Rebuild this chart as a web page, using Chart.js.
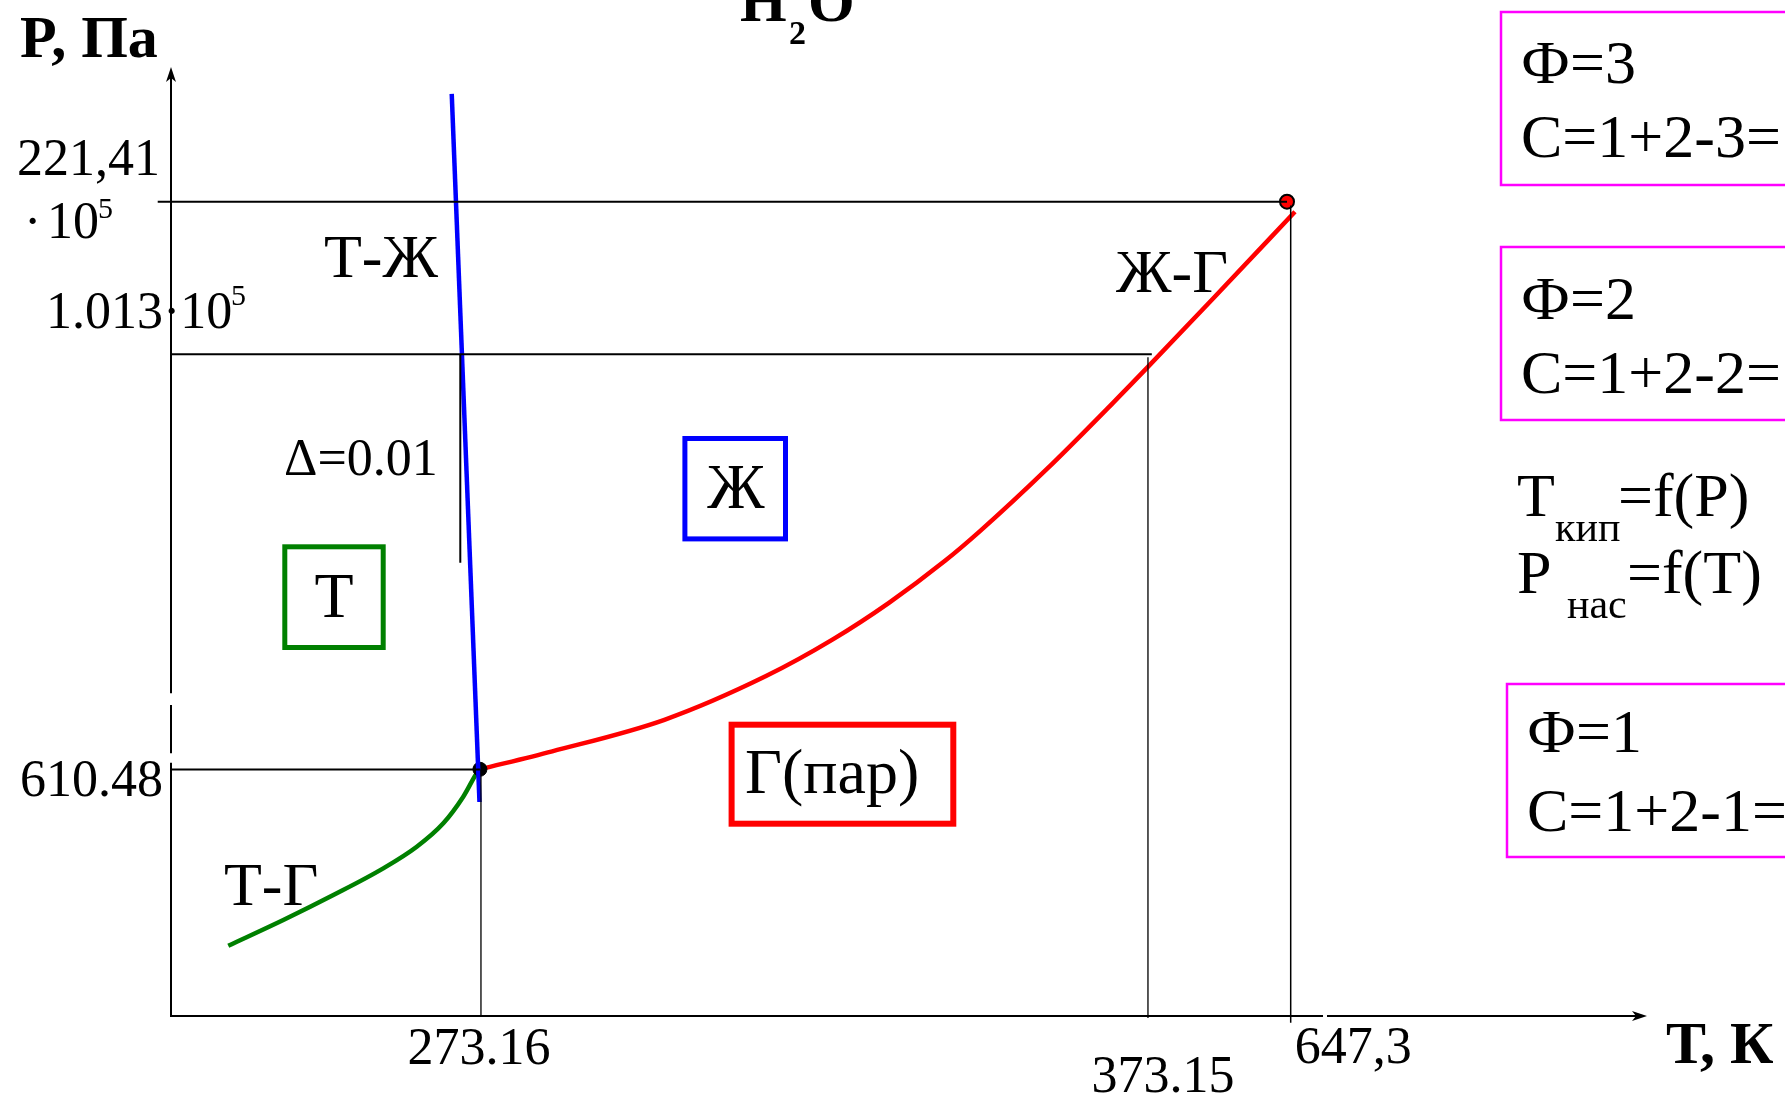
<!DOCTYPE html>
<html>
<head>
<meta charset="utf-8">
<title>H2O</title>
<script src="https://cdn.jsdelivr.net/npm/chart.js@4.4.1/dist/chart.umd.min.js"></script>
<style>
  html, body { margin: 0; padding: 0; background: #fff; overflow: hidden; }
  canvas { display: block; }
</style>
</head>
<body>
<canvas id="diagram" width="1785" height="1095"></canvas>
<script>
// Schematic diagram: both axes run 0..100, the picture is not to scale
let tickT = [21.0, 66.19, 75.86];
let tickTLabels = ['273.16', '373.15', '647,3'];
let tickP = [25.98, 69.72, 85.81];
let tickPLabels = ['610.48', '1.013·10', '221,41'];

let triplePoint = [20.93, 26.0];
let criticalPoint = [75.61, 85.81];

// Ж-Г (boiling curve)
let vapT = [20.93, 25.83, 33.43, 40.28, 44.84, 48.64, 52.44, 54.81, 59.33, 63.84, 66.17, 70.62, 76.15];
let vapP = [26.0, 27.89, 31.21, 35.79, 39.68, 43.53, 47.96, 51.09, 57.62, 64.64, 68.37, 75.63, 84.75];

// Т-Г (sublimation curve)
let sublT = [3.88, 7.61, 11.0, 14.38, 16.65, 18.45, 19.8, 20.71, 20.93];
let sublP = [7.41, 10.12, 12.75, 15.56, 17.84, 20.31, 23.11, 25.58, 26.0];

// Т-Ж (melting line)
let fusT = [19.02, 20.9];
let fusP = [97.16, 22.55];

// Δ=0.01 marker
let deltaT = 19.6;
let deltaP = [69.72, 47.77];

function zip(xs, ys) {
    return xs.map((x, i) => ({ x: x, y: ys[i] }));
}

function segment(x1, y1, x2, y2, width) {
    return {
        data: [{ x: x1, y: y1 }, { x: x2, y: y2 }],
        showLine: true,
        borderColor: '#000',
        borderWidth: width,
        pointRadius: 0,
        clip: false,
        order: 0
    };
}

function curve(xs, ys, color, order) {
    return {
        data: zip(xs, ys),
        showLine: true,
        borderColor: color,
        borderWidth: 4.5,
        pointRadius: 0,
        cubicInterpolationMode: 'monotone',
        clip: false,
        order: order
    };
}

let datasets = [
    // helper lines
    segment(-0.9, tickP[2], criticalPoint[0], tickP[2], 2),
    segment(0, tickP[1], 66.45, tickP[1], 2),
    segment(0, tickP[0], triplePoint[0], tickP[0], 2),
    segment(tickT[0], triplePoint[1], tickT[0], -0.1, 1.3),
    segment(tickT[1], tickP[1] - 0.3, tickT[1], -0.2, 1.3),
    segment(tickT[2], criticalPoint[1] - 0.4, tickT[2], -0.7, 1.5),
    segment(deltaT, deltaP[0], deltaT, deltaP[1], 2),
    curve(fusT, fusP, '#0000ff', 1),
    {
        data: [{ x: triplePoint[0], y: triplePoint[1] }],
        pointRadius: 7, backgroundColor: '#000', borderColor: '#000', borderWidth: 1,
        clip: false, order: 2
    },
    {
        data: [{ x: criticalPoint[0], y: criticalPoint[1] }],
        pointRadius: 7, backgroundColor: '#ff0000', borderColor: '#000', borderWidth: 2,
        clip: false, order: 3
    },
    curve(vapT, vapP, '#ff0000', 4),
    curve(sublT, sublP, '#008000', 5)
];

const FONT = '"Liberation Serif", "Times New Roman", serif';

function text(ctx, str, x, y, size, bold, align) {
    ctx.font = (bold ? 'bold ' : '') + size + 'px ' + FONT;
    ctx.textAlign = align || 'left';
    ctx.textBaseline = 'alphabetic';
    ctx.fillStyle = '#000';
    ctx.fillText(str, x, y);
}

function box(ctx, x, y, w, h, color, width) {
    ctx.strokeStyle = color;
    ctx.lineWidth = width;
    ctx.strokeRect(x, y, w, h);
}

function arrowHead(ctx, x, y, dir) {
    // thin stealth arrow, dir: 'up' or 'right'
    ctx.save();
    ctx.translate(x, y);
    if (dir === 'right') ctx.rotate(Math.PI / 2);
    ctx.beginPath();
    ctx.moveTo(0, 0);
    ctx.lineTo(-5, 15);
    ctx.lineTo(0, 11);
    ctx.lineTo(5, 15);
    ctx.closePath();
    ctx.fillStyle = '#000';
    ctx.fill();
    ctx.restore();
}

const axesPlugin = {
    id: 'axes',
    beforeDatasetsDraw(chart) {
        let ctx = chart.ctx;
        let xs = chart.scales.x, ys = chart.scales.y;
        let x0 = xs.getPixelForValue(0), y0 = ys.getPixelForValue(0);
        let xTop = ys.getPixelForValue(100), xRight = xs.getPixelForValue(100);

        ctx.save();
        ctx.strokeStyle = '#000';
        ctx.lineWidth = 2;

        // P axis, with the two little breaks of the original
        let yBreaks = [[26.69, 27.68], [32.77, 34.0]];
        let from = 0;
        ctx.beginPath();
        yBreaks.forEach(b => {
            ctx.moveTo(x0, ys.getPixelForValue(from));
            ctx.lineTo(x0, ys.getPixelForValue(b[0]));
            from = b[1];
        });
        ctx.moveTo(x0, ys.getPixelForValue(from));
        ctx.lineTo(x0, xTop + 8);
        ctx.stroke();
        arrowHead(ctx, x0, xTop, 'up');

        // T axis
        ctx.beginPath();
        ctx.moveTo(x0 - 1, y0);
        ctx.lineTo(xs.getPixelForValue(78.05), y0);
        ctx.moveTo(xs.getPixelForValue(78.32), y0);
        ctx.lineTo(xRight - 8, y0);
        ctx.stroke();
        arrowHead(ctx, xRight, y0, 'right');
        ctx.restore();
    },
    afterDraw(chart) {
        let ctx = chart.ctx;
        let xs = chart.scales.x, ys = chart.scales.y;
        ctx.save();

        // axis titles
        text(ctx, 'P, Па', 20, 57, 60, true);
        text(ctx, 'Т, К', 1666, 1063, 60, true);
        text(ctx, 'H', 740, 21, 60, true);
        text(ctx, '2', 789, 44, 34, true);
        text(ctx, 'O', 808, 21, 60, true);

        // P ticks
        let p0 = ys.getPixelForValue(tickP[0]);
        let p1 = ys.getPixelForValue(tickP[1]);
        let p2 = ys.getPixelForValue(tickP[2]);
        text(ctx, tickPLabels[0], 20, p0 + 27, 52);
        text(ctx, tickPLabels[1], 46, p1 - 26, 52);
        text(ctx, '5', 231, p1 - 49, 30);
        text(ctx, tickPLabels[2], 17, p2 - 27, 52);
        text(ctx, '·', 24, p2 + 36, 52);
        text(ctx, '10', 47, p2 + 36, 52);
        text(ctx, '5', 98, p2 + 16, 30);

        // T ticks
        text(ctx, tickTLabels[0], xs.getPixelForValue(tickT[0]) - 2, 1064, 52, false, 'center');
        text(ctx, tickTLabels[1], xs.getPixelForValue(tickT[1]) + 15, 1092, 52, false, 'center');
        text(ctx, tickTLabels[2], xs.getPixelForValue(tickT[2]) + 4, 1063, 52);

        // curve and phase labels
        text(ctx, 'Т-Ж', 324, 277, 62);
        text(ctx, 'Ж-Г', 1116, 292, 62);
        text(ctx, 'Т-Г', 224, 905, 62);
        text(ctx, 'Δ=0.01', 284, 475, 52);

        box(ctx, 684.9, 438.5, 100.6, 100.4, '#0000ff', 5);
        text(ctx, 'Ж', 736, 508, 64, false, 'center');
        box(ctx, 284.8, 546.8, 98.4, 100.7, '#008000', 5);
        text(ctx, 'Т', 334, 617, 64, false, 'center');
        box(ctx, 731.6, 724.7, 221.7, 99, '#ff0000', 6);
        text(ctx, 'Г(пар)', 745, 793, 64);

        // Gibbs phase rule notes
        box(ctx, 1501, 12, 320, 173, '#ff00ff', 2.5);
        text(ctx, 'Ф=3', 1521, 83, 62);
        text(ctx, 'С=1+2-3=', 1521, 157, 62);
        box(ctx, 1501, 247, 320, 173, '#ff00ff', 2.5);
        text(ctx, 'Ф=2', 1521, 319, 62);
        text(ctx, 'С=1+2-2=', 1521, 393, 62);

        text(ctx, 'Т', 1517, 516, 62);
        text(ctx, 'кип', 1555, 541, 42);
        text(ctx, '=f(P)', 1618, 516, 62);
        text(ctx, 'P', 1517, 593, 62);
        text(ctx, 'нас', 1567, 618, 42);
        text(ctx, '=f(T)', 1627, 593, 62);

        box(ctx, 1507, 684, 320, 173, '#ff00ff', 2.5);
        text(ctx, 'Ф=1', 1527, 752, 62);
        text(ctx, 'С=1+2-1=', 1527, 831, 62);

        ctx.restore();
    }
};

new Chart(document.getElementById('diagram'), {
    type: 'scatter',
    data: { datasets: datasets },
    options: {
        responsive: false,
        devicePixelRatio: 1,
        animation: false,
        layout: { padding: { left: 171, right: 138, top: 67, bottom: 79 } },
        plugins: { legend: { display: false }, tooltip: { enabled: false } },
        scales: {
            x: { type: 'linear', min: 0, max: 100, display: false },
            y: { type: 'linear', min: 0, max: 100, display: false }
        }
    },
    plugins: [axesPlugin]
});
</script>
</body>
</html>
